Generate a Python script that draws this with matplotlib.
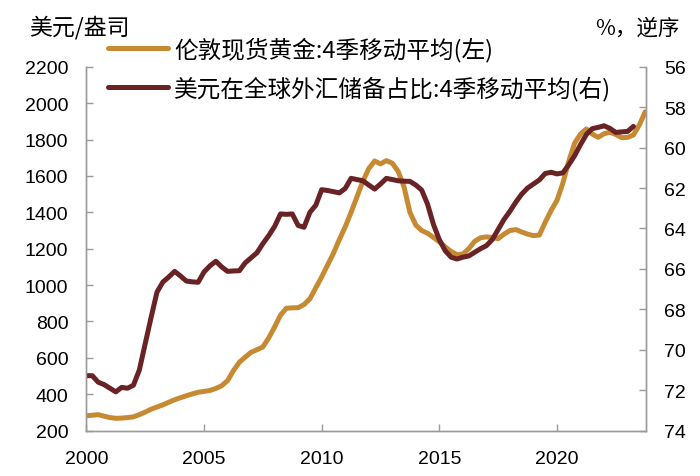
import matplotlib
matplotlib.use("Agg")
import matplotlib.pyplot as plt
import numpy as np

plt.rcParams['font.family'] = ['Liberation Sans', 'Noto Sans CJK SC', 'DejaVu Sans']
CJK = ['Noto Sans CJK SC', 'DejaVu Sans']

# quarterly, 4-quarter moving averages
gold_start = 2000.0
gold = [282, 285, 288, 280, 272, 268, 269, 272, 276, 288, 302, 318,
        330, 342, 356, 370, 381, 392, 402, 411, 416, 421, 432, 447,
        475, 530, 576, 604, 631, 645, 660, 710, 770, 835, 873, 875,
        876, 893, 925, 985, 1045, 1110, 1175, 1250, 1320, 1400, 1485, 1570,
        1640, 1682, 1666, 1684, 1670, 1625, 1540, 1400, 1330, 1300, 1285, 1262,
        1238, 1210, 1185, 1168, 1170, 1200, 1240, 1260, 1265, 1262, 1255, 1280,
        1300, 1305, 1292, 1280, 1272, 1275, 1345, 1410, 1465, 1560, 1680, 1780,
        1830, 1858, 1830, 1812, 1832, 1840, 1828, 1810, 1812, 1825, 1880, 1952]

usd_share = [71.28, 71.28, 71.60, 71.72, 71.90, 72.08, 71.86, 71.90, 71.75, 71.00, 69.70, 68.40,
             67.15, 66.65, 66.40, 66.12, 66.35, 66.60, 66.64, 66.66, 66.15, 65.85, 65.62, 65.90,
             66.12, 66.10, 66.09, 65.70, 65.45, 65.20, 64.75, 64.35, 63.90, 63.28, 63.30, 63.28,
             63.85, 63.94, 63.20, 62.85, 62.08, 62.12, 62.18, 62.24, 62.02, 61.52, 61.58, 61.64,
             61.85, 62.05, 61.80, 61.52, 61.58, 61.64, 61.66, 61.67, 61.85, 62.10, 62.80, 63.80,
             64.55, 65.10, 65.42, 65.51, 65.42, 65.36, 65.18, 65.00, 64.85, 64.55, 64.05, 63.55,
             63.15, 62.70, 62.30, 62.00, 61.80, 61.60, 61.28, 61.22, 61.30, 61.25, 60.85, 60.40,
             59.85, 59.35, 59.06, 59.00, 58.92, 59.05, 59.25, 59.22, 59.20, 58.95]

label_gold = '伦敦现货黄金:4季移动平均(左)'
label_usd = '美元在全球外汇储备占比:4季移动平均(右)'

gold_t = gold_start + np.arange(len(gold)) / 4
usd_t = gold_start + np.arange(len(usd_share)) / 4

fig = plt.figure(figsize=(7, 4.77), dpi=100)
ax1 = fig.add_axes([0.1234, 0.095, 0.799, 0.763])
ax2 = ax1.twinx()

c_gold = '#C68A33'
c_usd = '#6A2324'
l1, = ax1.plot(gold_t, gold, color=c_gold, lw=3.6, solid_capstyle='round')
l2, = ax2.plot(usd_t, usd_share, color=c_usd, lw=3.6, solid_capstyle='round')

ax1.set_xlim(2000, 2023.77)
ax1.set_ylim(200, 2200)
ax1.set_yticks(range(200, 2201, 200))
ax1.set_xticks(range(2000, 2021, 5))
ax2.set_ylim(74, 56)
ax2.set_yticks(range(56, 75, 2))

grey = '#9a9a9a'
for ax in (ax1, ax2):
    ax.spines['top'].set_visible(False)
    for s in ('left', 'right', 'bottom'):
        ax.spines[s].set_color(grey)
        ax.spines[s].set_linewidth(1.0)
    ax.tick_params(direction='in', length=5, width=1, color=grey, labelsize=14, pad=13)
ax1.tick_params(axis='x', pad=14)

fig.text(0.041, 0.943, '美元/盎司', fontsize=16.5, ha='left', va='center', family=CJK)
fig.text(0.971, 0.941, '%，逆序', fontsize=15.5, ha='right', va='center', family=CJK)

fig.legend([l1, l2], [label_gold, label_usd], loc='upper left',
           bbox_to_anchor=(0.154, 0.922), frameon=False,
           prop={'family': CJK, 'size': 17},
           handlelength=2.55, handletextpad=0.25, labelspacing=0.62,
           borderpad=0, borderaxespad=0)

fig.savefig('out.png', dpi=100)
